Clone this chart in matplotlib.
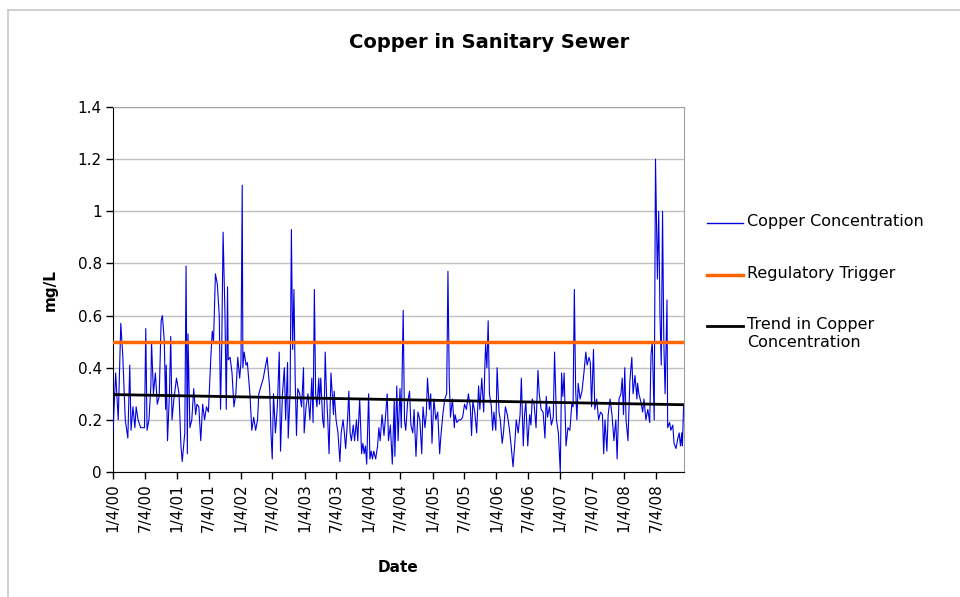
import numpy as np
import pandas as pd
import matplotlib
matplotlib.use("Agg")
import matplotlib.pyplot as plt
from matplotlib.lines import Line2D

# sample dates (decimal years) and copper concentration, mg/L
years = [2000.01, 2000.05, 2000.09, 2000.13, 2000.16, 2000.20, 2000.24, 2000.27, 2000.29, 2000.32,
         2000.35, 2000.37, 2000.40, 2000.44, 2000.50, 2000.52, 2000.54, 2000.57, 2000.60, 2000.61,
         2000.64, 2000.67, 2000.70, 2000.73, 2000.76, 2000.78, 2000.81, 2000.83, 2000.84, 2000.86,
         2000.89, 2000.91, 2000.93, 2000.96, 2001.00, 2001.04, 2001.07, 2001.09, 2001.13, 2001.15,
         2001.17, 2001.18, 2001.21, 2001.24, 2001.27, 2001.30, 2001.32, 2001.35, 2001.38, 2001.41,
         2001.44, 2001.47, 2001.50, 2001.54, 2001.56, 2001.58, 2001.61, 2001.64, 2001.67, 2001.69,
         2001.71, 2001.73, 2001.76, 2001.78, 2001.80, 2001.81, 2001.84, 2001.87, 2001.90, 2001.93,
         2001.96, 2001.99, 2002.01, 2002.03, 2002.04, 2002.06, 2002.09, 2002.11, 2002.15, 2002.18,
         2002.21, 2002.24, 2002.27, 2002.29, 2002.36, 2002.42, 2002.46, 2002.48, 2002.50, 2002.52,
         2002.55, 2002.58, 2002.61, 2002.63, 2002.66, 2002.69, 2002.71, 2002.74, 2002.75, 2002.78,
         2002.80, 2002.82, 2002.84, 2002.86, 2002.88, 2002.90, 2002.93, 2002.96, 2002.99, 2003.00,
         2003.03, 2003.06, 2003.09, 2003.12, 2003.14, 2003.16, 2003.18, 2003.20, 2003.23, 2003.24,
         2003.26, 2003.29, 2003.31, 2003.33, 2003.35, 2003.37, 2003.39, 2003.42, 2003.44, 2003.46,
         2003.47, 2003.50, 2003.53, 2003.56, 2003.58, 2003.61, 2003.63, 2003.65, 2003.68, 2003.70,
         2003.72, 2003.74, 2003.77, 2003.79, 2003.82, 2003.84, 2003.87, 2003.90, 2003.92, 2003.94,
         2003.96, 2003.98, 2004.01, 2004.03, 2004.05, 2004.07, 2004.09, 2004.12, 2004.15, 2004.17,
         2004.19, 2004.22, 2004.25, 2004.27, 2004.30, 2004.32, 2004.35, 2004.38, 2004.41, 2004.42,
         2004.45, 2004.47, 2004.50, 2004.52, 2004.55, 2004.57, 2004.59, 2004.62, 2004.65, 2004.67,
         2004.70, 2004.72, 2004.75, 2004.78, 2004.81, 2004.84, 2004.86, 2004.89, 2004.91, 2004.93,
         2004.96, 2004.98, 2005.00, 2005.03, 2005.06, 2005.09, 2005.12, 2005.14, 2005.17, 2005.20,
         2005.23, 2005.25, 2005.27, 2005.29, 2005.32, 2005.35, 2005.36, 2005.39, 2005.42, 2005.45,
         2005.48, 2005.51, 2005.54, 2005.57, 2005.60, 2005.62, 2005.64, 2005.67, 2005.70, 2005.73,
         2005.75, 2005.78, 2005.81, 2005.83, 2005.84, 2005.86, 2005.88, 2005.90, 2005.93, 2005.95,
         2005.97, 2006.00, 2006.02, 2006.05, 2006.07, 2006.10, 2006.12, 2006.15, 2006.18, 2006.21,
         2006.24, 2006.27, 2006.30, 2006.32, 2006.35, 2006.38, 2006.40, 2006.43, 2006.45, 2006.47,
         2006.50, 2006.53, 2006.55, 2006.57, 2006.60, 2006.63, 2006.66, 2006.68, 2006.71, 2006.74,
         2006.77, 2006.79, 2006.81, 2006.84, 2006.87, 2006.90, 2006.92, 2006.95, 2006.98, 2007.01,
         2007.03, 2007.05, 2007.07, 2007.10, 2007.13, 2007.16, 2007.19, 2007.21, 2007.23, 2007.25,
         2007.27, 2007.29, 2007.32, 2007.35, 2007.38, 2007.41, 2007.43, 2007.46, 2007.48, 2007.50,
         2007.53, 2007.55, 2007.58, 2007.61, 2007.64, 2007.67, 2007.69, 2007.71, 2007.74, 2007.76,
         2007.79, 2007.82, 2007.85, 2007.88, 2007.90, 2007.93, 2007.96, 2007.98, 2008.00, 2008.02,
         2008.04, 2008.07, 2008.10, 2008.13, 2008.15, 2008.18, 2008.21, 2008.22, 2008.24, 2008.27,
         2008.30, 2008.32, 2008.35, 2008.38, 2008.41, 2008.43, 2008.45, 2008.48, 2008.50, 2008.53,
         2008.55, 2008.57, 2008.59, 2008.61, 2008.63, 2008.65, 2008.68, 2008.69, 2008.72, 2008.74,
         2008.77, 2008.79, 2008.82, 2008.85, 2008.87, 2008.89, 2008.91, 2008.92, 2008.94]

copper = [0.16, 0.38, 0.20, 0.57, 0.45, 0.20, 0.13, 0.41, 0.16, 0.25,
          0.17, 0.25, 0.20, 0.17, 0.17, 0.55, 0.16, 0.20, 0.33, 0.50,
          0.30, 0.38, 0.26, 0.29, 0.58, 0.60, 0.50, 0.24, 0.41, 0.12,
          0.30, 0.52, 0.20, 0.28, 0.36, 0.30, 0.10, 0.04, 0.15, 0.79,
          0.07, 0.53, 0.17, 0.20, 0.32, 0.22, 0.26, 0.25, 0.12, 0.26,
          0.20, 0.25, 0.23, 0.45, 0.54, 0.50, 0.76, 0.72, 0.60, 0.24,
          0.50, 0.92, 0.60, 0.24, 0.71, 0.43, 0.44, 0.38, 0.25, 0.30,
          0.44, 0.36, 0.42, 1.10, 0.40, 0.46, 0.41, 0.42, 0.30, 0.16,
          0.21, 0.16, 0.20, 0.30, 0.36, 0.44, 0.32, 0.15, 0.05, 0.30,
          0.15, 0.25, 0.46, 0.08, 0.30, 0.40, 0.20, 0.42, 0.13, 0.30,
          0.93, 0.47, 0.70, 0.35, 0.14, 0.32, 0.30, 0.25, 0.40, 0.15,
          0.25, 0.30, 0.20, 0.36, 0.19, 0.70, 0.30, 0.25, 0.36, 0.26,
          0.36, 0.20, 0.17, 0.46, 0.30, 0.20, 0.07, 0.38, 0.30, 0.22,
          0.31, 0.20, 0.15, 0.04, 0.15, 0.20, 0.15, 0.09, 0.20, 0.31,
          0.15, 0.12, 0.18, 0.12, 0.20, 0.12, 0.28, 0.07, 0.11, 0.07,
          0.10, 0.03, 0.30, 0.05, 0.08, 0.05, 0.08, 0.05, 0.10, 0.17,
          0.12, 0.22, 0.14, 0.20, 0.30, 0.12, 0.18, 0.03, 0.28, 0.06,
          0.33, 0.12, 0.32, 0.17, 0.62, 0.20, 0.16, 0.27, 0.31, 0.18,
          0.15, 0.24, 0.06, 0.23, 0.20, 0.07, 0.25, 0.17, 0.22, 0.36,
          0.24, 0.30, 0.11, 0.28, 0.20, 0.23, 0.07, 0.14, 0.22, 0.28,
          0.30, 0.77, 0.35, 0.21, 0.28, 0.17, 0.22, 0.19, 0.20, 0.20,
          0.21, 0.26, 0.24, 0.30, 0.25, 0.14, 0.27, 0.23, 0.15, 0.33,
          0.24, 0.36, 0.23, 0.42, 0.49, 0.40, 0.58, 0.30, 0.25, 0.16,
          0.23, 0.16, 0.40, 0.23, 0.20, 0.11, 0.15, 0.25, 0.22, 0.17,
          0.10, 0.02, 0.12, 0.20, 0.15, 0.22, 0.36, 0.10, 0.22, 0.27,
          0.10, 0.22, 0.18, 0.28, 0.26, 0.17, 0.39, 0.30, 0.24, 0.23,
          0.13, 0.29, 0.21, 0.25, 0.18, 0.21, 0.46, 0.20, 0.15, 0.00,
          0.38, 0.29, 0.38, 0.10, 0.17, 0.16, 0.26, 0.25, 0.70, 0.32,
          0.20, 0.34, 0.28, 0.31, 0.38, 0.46, 0.41, 0.44, 0.42, 0.25,
          0.47, 0.24, 0.28, 0.20, 0.23, 0.22, 0.07, 0.20, 0.08, 0.22,
          0.28, 0.22, 0.12, 0.20, 0.05, 0.28, 0.30, 0.36, 0.22, 0.40,
          0.20, 0.12, 0.35, 0.44, 0.30, 0.37, 0.28, 0.34, 0.30, 0.27,
          0.23, 0.28, 0.20, 0.24, 0.19, 0.45, 0.50, 0.20, 1.20, 0.74,
          1.00, 0.60, 0.41, 1.00, 0.50, 0.30, 0.66, 0.17, 0.19, 0.16,
          0.18, 0.11, 0.09, 0.13, 0.15, 0.10, 0.15, 0.10, 0.26]

trigger = 0.5
trend_ends = [0.297, 0.258]

tick_labels = ["1/4/00", "7/4/00", "1/4/01", "7/4/01", "1/4/02", "7/4/02",
               "1/4/03", "7/4/03", "1/4/04", "7/4/04", "1/4/05", "7/4/05",
               "1/4/06", "7/4/06", "1/4/07", "7/4/07", "1/4/08", "7/4/08"]
x_start = "2000-01-04"
x_end = "2008-12-12"

legend_labels = ["Copper Concentration", "Regulatory Trigger", "Trend in Copper\nConcentration"]


def to_date(y):
    base = int(y)
    start = pd.Timestamp(year=base, month=1, day=1)
    end = pd.Timestamp(year=base + 1, month=1, day=1)
    return start + (end - start) * (y - base)


dates = [to_date(y) for y in years]
tick_dates = pd.to_datetime(tick_labels, format="%m/%d/%y")
x0, x1 = pd.Timestamp(x_start), pd.Timestamp(x_end)

plt.rcParams["font.family"] = ["DejaVu Sans"]

W, H = 960, 597
fig = plt.figure(figsize=(9.6, 5.97), dpi=100)
ax = fig.add_axes([113 / W, 1 - 472 / H, 571 / W, 365 / H])

# chart area border (only top and left edges are visible)
fig.add_artist(Line2D([8 / W, 8 / W], [0, 1 - 10 / H], color="#c8c8c8", lw=1.2))
fig.add_artist(Line2D([8 / W, 1], [1 - 10 / H, 1 - 10 / H], color="#c8c8c8", lw=1.2))

colors = ["#0000e0", "#ff6600", "black"]
widths = [0.8, 2.5, 2]

ax.plot(dates, copper, color=colors[0], linewidth=widths[0], zorder=3)
ax.plot([x0, x1], [trigger, trigger], color=colors[1], linewidth=widths[1], zorder=4)
ax.plot([dates[0], x1], trend_ends, color=colors[2], linewidth=widths[2], zorder=5)

ax.set_xlim(x0, x1)
ax.set_ylim(0, 1.4)
ax.set_yticks(np.arange(0, 1.41, 0.2))
ax.set_yticklabels(["0", "0.2", "0.4", "0.6", "0.8", "1", "1.2", "1.4"], fontsize=11)
ax.set_xticks(tick_dates)
ax.set_xticklabels(tick_labels, rotation=90, fontsize=11)
ax.tick_params(axis="both", direction="out", length=5, width=1, color="black", pad=3)
ax.grid(axis="y", color="#c0c0c0", linewidth=1)
ax.set_axisbelow(True)

for side in ["top", "right"]:
    ax.spines[side].set_color("#a0a0a0")
for side in ["left", "bottom"]:
    ax.spines[side].set_color("black")

fig.text(489 / W, 1 - 42 / H, "Copper in Sanitary Sewer", ha="center", va="center",
         fontsize=14, fontweight="bold")
fig.text(50 / W, 1 - 290 / H, "mg/L", rotation=90, ha="center", va="center",
         fontsize=11, fontweight="bold")
fig.text(398 / W, 1 - 568 / H, "Date", ha="center", va="center",
         fontsize=11, fontweight="bold")

# legend drawn by hand so the handle sits on the first text line, as in Excel
for i, (lab, y) in enumerate(zip(legend_labels, [223, 275, 326])):
    fig.add_artist(Line2D([707 / W, 743 / W], [1 - y / H, 1 - y / H],
                          color=colors[i], lw=max(widths[i], 1.0)))
    fig.text(747 / W, 1 - (y - 9) / H, lab, ha="left", va="top", fontsize=11.5,
             linespacing=1.25)

fig.savefig("out.png", dpi=100, facecolor="white")
